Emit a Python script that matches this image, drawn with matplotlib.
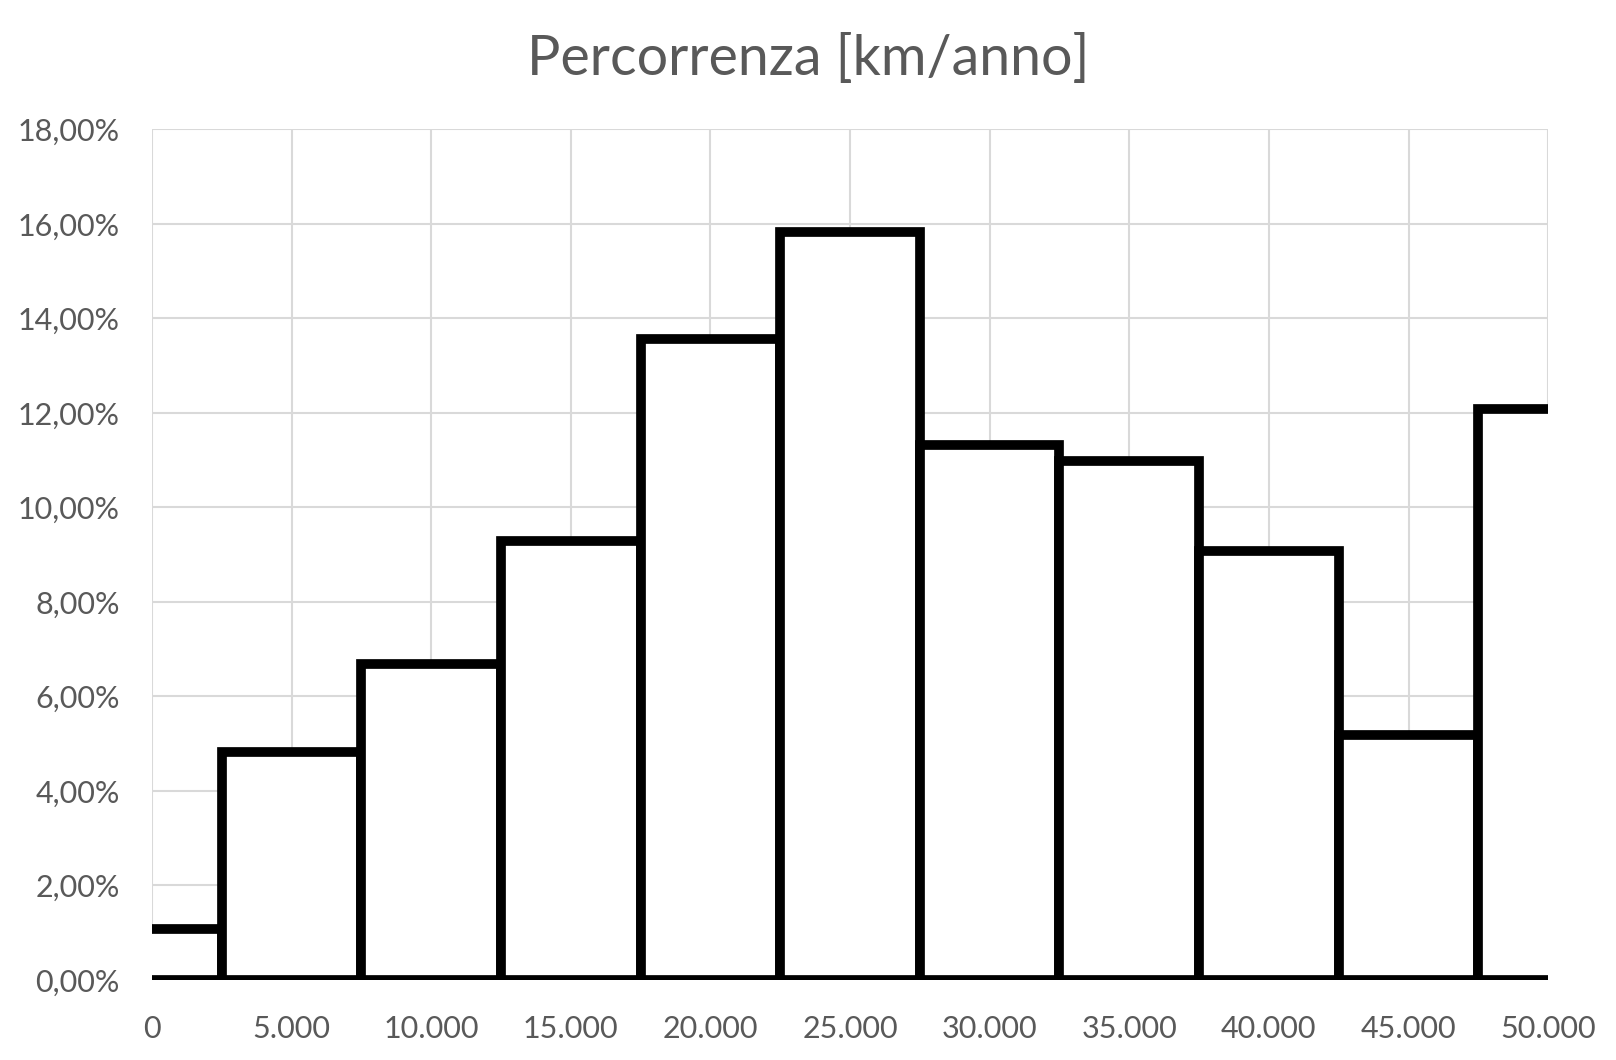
import numpy as np
import matplotlib.pyplot as plt
from matplotlib.ticker import FuncFormatter, MultipleLocator

# classes of yearly mileage (km) and share of vehicles (%)
km_classes = [0, 5000, 10000, 15000, 20000, 25000, 30000, 35000, 40000, 45000, 50000]
share_pct = [1.08, 4.82, 6.69, 9.28, 13.56, 15.82, 11.32, 10.98, 9.07, 5.19, 12.08]

grey = '#595959'
plt.rcParams['font.family'] = ['Lato', 'DejaVu Sans']

fig = plt.figure(figsize=(16.16, 10.6), dpi=100)
ax = fig.add_axes([0.094, 0.0755, 0.864, 0.8025])

ax.bar(km_classes, share_pct, width=5000, color='white', edgecolor='black',
       linewidth=7, zorder=3)

ax.set_xlim(0, 50000)
ax.set_ylim(0, 18)
ax.xaxis.set_major_locator(MultipleLocator(5000))
ax.yaxis.set_major_locator(MultipleLocator(2))
ax.xaxis.set_major_formatter(FuncFormatter(lambda v, p: f'{int(v):,}'.replace(',', '.')))
ax.yaxis.set_major_formatter(FuncFormatter(lambda v, p: f'{v:.2f}'.replace('.', ',') + '%'))

ax.grid(True, color='#d9d9d9', lw=1.5, zorder=0)
for s in ax.spines.values():
    s.set_visible(False)
ax.tick_params(length=0, labelsize=22, colors=grey)
ax.tick_params(axis='y', pad=23)
ax.tick_params(axis='x', pad=25)

fig.text(0.5, 0.944, 'Percorrenza [km/anno]', ha='center', va='center',
         fontsize=40, color=grey)

plt.savefig('out.png', dpi=100)
